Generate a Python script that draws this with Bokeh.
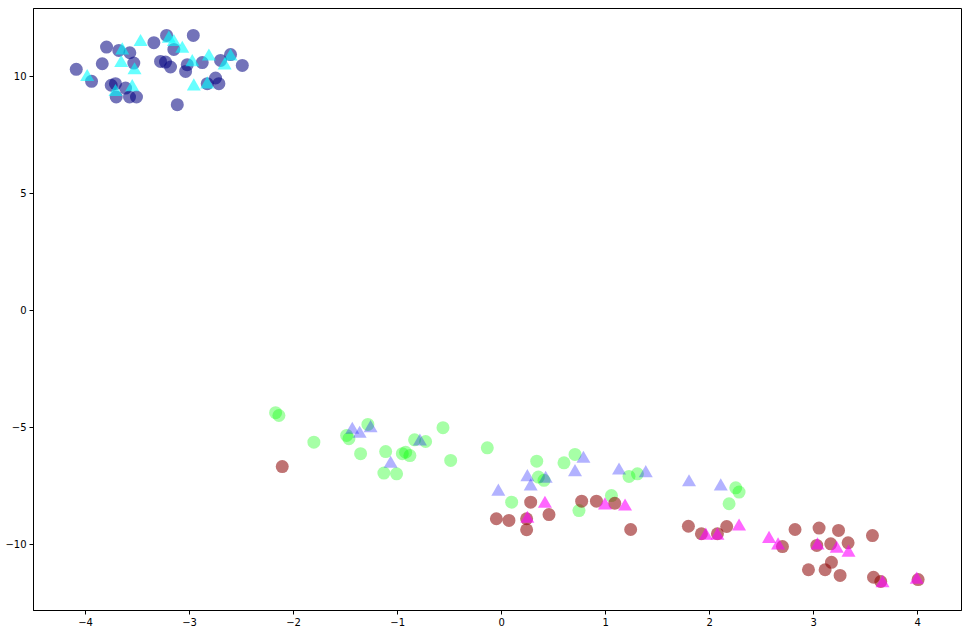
from bokeh.plotting import figure
from bokeh.models import Range1d, FixedTicker
from bokeh.embed import file_html
from bokeh.resources import INLINE

# Series: class A (navy circles / cyan triangles)
a_circ_x = [-4.089, -3.942, -3.839, -3.798, -3.680, -3.574, -3.536, -3.753, -3.712, -3.615,
            -3.705, -3.577, -3.510, -3.343, -3.279, -3.231, -3.221, -3.183, -3.151, -3.118,
            -3.038, -3.022, -2.964, -2.878, -2.830, -2.750, -2.718, -2.702, -2.606, -2.493]
a_circ_y = [10.30, 9.79, 10.54, 11.25, 11.11, 11.01, 10.57, 9.62, 9.69, 9.50,
            9.12, 9.12, 9.12, 11.44, 10.64, 10.61, 11.75, 10.40, 11.15, 8.79,
            10.21, 10.50, 11.75, 10.59, 9.69, 9.93, 9.69, 10.68, 10.93, 10.47]
a_tri_x = [-3.984, -3.647, -3.657, -3.529, -3.471, -3.712, -3.551, -3.199, -3.151, -3.070,
           -2.974, -2.959, -2.830, -2.814, -2.663, -2.606]
a_tri_y = [9.97, 11.11, 10.57, 10.26, 11.47, 9.33, 9.54, 11.61, 11.47, 11.18,
           10.61, 9.57, 9.66, 10.85, 10.47, 10.85]

# Class B (green circles / blue triangles)
b_circ_x = [-2.173, -2.141, -1.805, -1.490, -1.468, -1.286, -1.356, -1.115, -1.132, -1.010,
            -0.955, -0.923, -0.882, -0.837, -0.731, -0.564, -0.490, -0.138, 0.337, 0.353,
            0.407, 0.599, 0.705, 0.096, 0.743, 1.055, 1.224, 1.305, 2.250, 2.282, 2.186]
b_circ_y = [-4.37, -4.49, -5.63, -5.34, -5.48, -4.87, -6.12, -6.03, -6.95, -6.98,
            -6.12, -6.06, -6.20, -5.53, -5.60, -5.01, -6.41, -5.87, -6.44, -7.12,
            -7.26, -6.51, -6.15, -8.19, -8.55, -7.91, -7.09, -6.98, -7.58, -7.76, -8.26]
b_tri_x = [-1.436, -1.365, -1.260, -1.067, -0.786, -0.032, 0.247, 0.279, 0.423, 0.705,
           0.786, 1.128, 1.385, 1.801, 2.106]
b_tri_y = [-5.10, -5.27, -5.03, -6.55, -5.60, -7.74, -7.12, -7.52, -7.19, -6.91,
           -6.34, -6.84, -6.95, -7.34, -7.52]

# Class C (dark red circles / magenta triangles)
c_circ_x = [-2.109, -0.051, 0.070, 0.240, 0.240, 0.279, 0.455, 0.769, 0.911, 1.087,
            1.240, 1.795, 1.920, 2.074, 2.163, 2.699, 2.820, 2.949, 3.051, 3.029,
            3.109, 3.163, 3.170, 3.238, 3.253, 3.330, 3.564, 3.574, 3.644, 4.003]
c_circ_y = [-6.67, -8.90, -8.97, -8.90, -9.37, -8.19, -8.72, -8.15, -8.15, -8.24,
            -9.36, -9.22, -9.54, -9.54, -9.23, -10.09, -9.36, -11.08, -9.30, -10.04,
            -11.08, -9.97, -10.76, -9.40, -11.32, -9.93, -9.62, -11.40, -11.58, -11.50]
c_tri_x = [0.247, 0.416, 0.993, 1.186, 1.962, 2.074, 2.282, 2.570, 2.657, 3.036,
           3.221, 3.334, 3.661, 3.990]
c_tri_y = [-8.90, -8.26, -8.33, -8.38, -9.62, -9.62, -9.23, -9.76, -10.04, -10.04,
           -10.18, -10.35, -11.65, -11.50]

x_ticks = [-4, -3, -2, -1, 0, 1, 2, 3, 4]
y_ticks = [-10, -5, 0, 5, 10]

p = figure(width=964, height=630, output_backend="svg", toolbar_location=None,
           x_range=Range1d(-4.5, 4.42), y_range=Range1d(-12.82, 12.9),
           min_border_left=33, min_border_right=3, min_border_top=8, min_border_bottom=20)
p.grid.visible = False
p.outline_line_color = "black"
p.outline_line_width = 1
p.background_fill_color = "white"
p.border_fill_color = "white"

for ax, ticks in ((p.xaxis[0], x_ticks), (p.yaxis[0], y_ticks)):
    ax.ticker = FixedTicker(ticks=ticks)
    ax.major_label_overrides = {t: (str(t).replace("-", "\u2212")) for t in ticks}
    ax.minor_tick_line_color = None
    ax.major_tick_in = 0
    ax.major_tick_out = 4
    ax.major_tick_line_color = "black"
    ax.axis_line_color = "black"
    ax.major_label_text_font = "DejaVu Sans"
    ax.major_label_text_font_size = "10px"
    ax.major_label_text_color = "black"
    ax.major_label_standoff = 3

p.scatter(a_circ_x, a_circ_y, marker="circle", size=13, fill_color="navy", fill_alpha=0.55, line_color=None)
p.scatter(a_tri_x, a_tri_y, marker="triangle", size=14, fill_color="cyan", fill_alpha=0.6, line_color=None)
p.scatter(b_circ_x, b_circ_y, marker="circle", size=13, fill_color="lime", fill_alpha=0.35, line_color=None)
p.scatter(b_tri_x, b_tri_y, marker="triangle", size=14, fill_color="blue", fill_alpha=0.3, line_color=None)
p.scatter(c_circ_x, c_circ_y, marker="circle", size=13, fill_color="darkred", fill_alpha=0.55, line_color=None)
p.scatter(c_tri_x, c_tri_y, marker="triangle", size=14, fill_color="magenta", fill_alpha=0.6, line_color=None)

open("out.html", "w").write(file_html(p, INLINE))
